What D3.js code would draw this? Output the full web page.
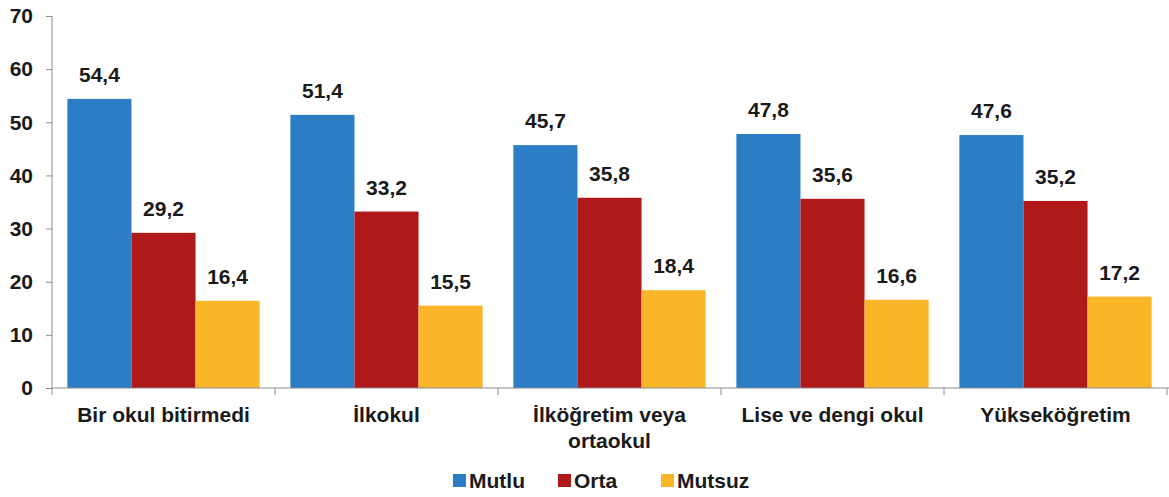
<!DOCTYPE html>
<html lang="tr">
<head>
<meta charset="UTF-8">
<title>Mutluluk - eğitim durumu</title>
<script src="https://cdn.jsdelivr.net/npm/d3@7"></script>
<style>
  body { margin: 0; background: #fff; }
  #chart text { font-family: "Liberation Sans", Arial, sans-serif; font-weight: bold; fill: #1a1a1a; }
  .axis path, .axis line { stroke: #8c8c8c; }
</style>
</head>
<body>
<div id="chart"></div>
<script>
  // data
  var categories = ["Bir okul bitirmedi", "İlkokul", "İlköğretim veya ortaokul", "Lise ve dengi okul", "Yükseköğretim"];
  var series = ["Mutlu", "Orta", "Mutsuz"];
  var mutlu  = [54.4, 51.4, 45.7, 47.8, 47.6];
  var orta   = [29.2, 33.2, 35.8, 35.6, 35.2];
  var mutsuz = [16.4, 15.5, 18.4, 16.6, 17.2];
  var yTicks = [0, 10, 20, 30, 40, 50, 60, 70];
  var colors = ["#2b7ec6", "#b0191a", "#f8b628"];

  var values = [mutlu, orta, mutsuz];
  var W = 1169, H = 497;
  var mLeft = 52, mRight = 1167, mTop = 16, mBottom = 388;
  var fs = "21px";

  var svg = d3.select("#chart").append("svg").attr("width", W).attr("height", H);

  var x0 = d3.scaleBand().domain(categories).range([mLeft, mRight]).padding(0);
  var x1 = d3.scaleBand().domain(series).range([0, x0.bandwidth()]).paddingInner(0).paddingOuter(0.24);
  var y = d3.scaleLinear().domain([0, 70]).range([mBottom, mTop]);

  // y axis
  var yAxis = svg.append("g")
    .attr("class", "axis")
    .attr("transform", "translate(" + mLeft + ",0)")
    .call(d3.axisLeft(y).tickValues(yTicks).tickSize(6).tickPadding(13).tickSizeOuter(0));
  yAxis.selectAll("text").style("font-size", fs);
  yAxis.select(".domain").attr("d", "M0," + mTop + "V" + (mBottom + 7));

  // bars
  var rows = [];
  categories.forEach(function(c, i) {
    series.forEach(function(s, j) {
      rows.push({ cat: c, ser: s, v: values[j][i], col: colors[j] });
    });
  });

  svg.selectAll(".bar")
    .data(rows)
    .enter().append("rect")
    .attr("class", "bar")
    .attr("x", function(d) { return x0(d.cat) + x1(d.ser); })
    .attr("y", function(d) { return y(d.v); })
    .attr("width", x1.bandwidth())
    .attr("height", function(d) { return mBottom - y(d.v); })
    .attr("fill", function(d) { return d.col; });

  svg.selectAll(".label")
    .data(rows)
    .enter().append("text")
    .attr("class", "label")
    .attr("text-anchor", "middle")
    .attr("x", function(d) { return x0(d.cat) + x1(d.ser) + x1.bandwidth() / 2; })
    .attr("y", function(d) { return y(d.v) - 17; })
    .style("font-size", fs)
    .text(function(d) { return d.v.toFixed(1).replace(".", ","); });

  // x axis
  var xAxis = svg.append("g")
    .attr("class", "axis")
    .attr("transform", "translate(0," + mBottom + ")")
    .call(d3.axisBottom(x0).tickSize(0).tickPadding(19).tickSizeOuter(0));
  xAxis.select(".domain").attr("d", "M" + mLeft + ",0H" + W);
  xAxis.selectAll("text").style("font-size", fs).call(wrap, 200);

  // ticks at group boundaries
  var bounds = categories.map(function(c) { return x0(c) + x0.bandwidth(); });
  xAxis.selectAll(".sep")
    .data(bounds)
    .enter().append("line")
    .attr("class", "sep")
    .attr("x1", function(d) { return d; })
    .attr("x2", function(d) { return d; })
    .attr("y1", 0)
    .attr("y2", 7);

  // legend
  var legX = [453, 558, 661];
  var legend = svg.append("g").selectAll("g")
    .data(series)
    .enter().append("g")
    .attr("transform", function(d, i) { return "translate(" + legX[i] + ",480)"; });
  legend.append("rect")
    .attr("x", 0).attr("y", -6)
    .attr("width", 13).attr("height", 13)
    .attr("fill", function(d, i) { return colors[i]; });
  legend.append("text")
    .attr("x", 16).attr("y", 8)
    .style("font-size", fs)
    .text(function(d) { return d; });

  function wrap(text, width) {
    text.each(function() {
      var t = d3.select(this);
      var words = t.text().split(/\s+/);
      var yy = t.attr("y"), dy = parseFloat(t.attr("dy"));
      var line = [];
      var ts = t.text(null).append("tspan").attr("x", 0).attr("y", yy).attr("dy", dy + "em");
      var n = 0;
      words.forEach(function(w) {
        line.push(w);
        ts.text(line.join(" "));
        if (ts.node().getComputedTextLength() > width && line.length > 1) {
          line.pop();
          ts.text(line.join(" "));
          line = [w];
          n++;
          ts = t.append("tspan").attr("x", 0).attr("y", yy).attr("dy", (dy + n * 1.25) + "em").text(w);
        }
      });
    });
  }
</script>
</body>
</html>
